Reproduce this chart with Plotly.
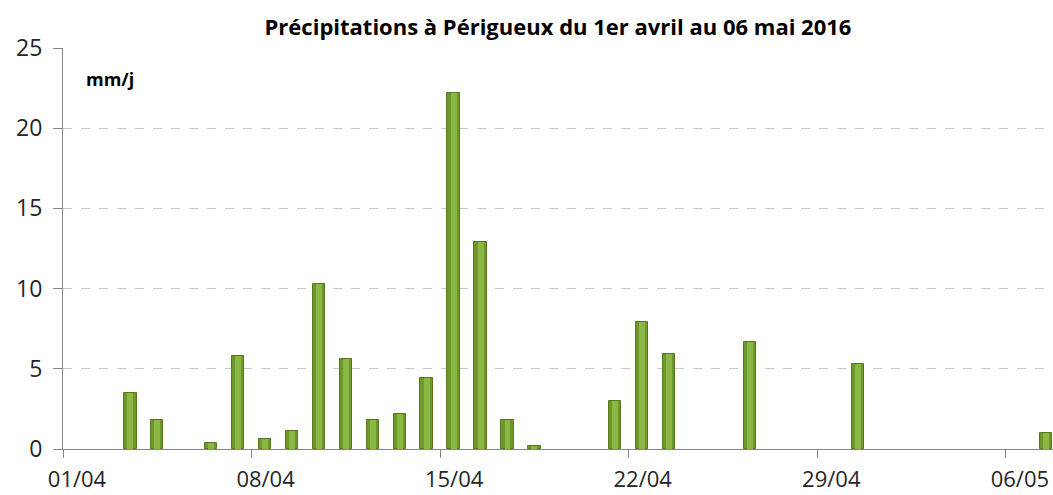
import plotly.graph_objects as go

# Data (mm per day)
dates = ["2016-04-03", "2016-04-04", "2016-04-06", "2016-04-07", "2016-04-08",
         "2016-04-09", "2016-04-10", "2016-04-11", "2016-04-12", "2016-04-13",
         "2016-04-14", "2016-04-15", "2016-04-16", "2016-04-17", "2016-04-18",
         "2016-04-21", "2016-04-22", "2016-04-23", "2016-04-26", "2016-04-30",
         "2016-05-07"]
precip = [3.5, 1.8, 0.4, 5.8, 0.6,
          1.1, 10.3, 5.6, 1.8, 2.2,
          4.4, 22.2, 12.9, 1.8, 0.2,
          3.0, 7.9, 5.9, 6.7, 5.3,
          1.0]
tick_dates = ["2016-04-01", "2016-04-08", "2016-04-15", "2016-04-22", "2016-04-29", "2016-05-06"]
tick_labels = ["01/04", "08/04", "15/04", "22/04", "29/04", "06/05"]
y_ticks = [0, 5, 10, 15, 20, 25]

DAY_MS = 86400000
FONT = "Open Sans"

fig = go.Figure()
# body of the cylinder-like bars
fig.add_trace(go.Bar(
    x=dates, y=precip,
    xperiod=DAY_MS, xperiodalignment="middle",
    width=0.46 * DAY_MS,
    marker=dict(color="#6E982A", line=dict(color="#56771D", width=1)),
    showlegend=False,
))
# lighter highlight stripe, same data
fig.add_trace(go.Bar(
    x=dates, y=precip,
    xperiod=DAY_MS, xperiodalignment="middle",
    width=0.22 * DAY_MS,
    marker=dict(color="#8BB744", line=dict(width=0)),
    showlegend=False, hoverinfo="skip",
))

fig.update_layout(
    width=1053, height=495,
    margin=dict(l=63, r=0, t=48, b=46),
    paper_bgcolor="white", plot_bgcolor="white",
    barmode="overlay",
    title=dict(text="<b>Précipitations à Périgueux du 1er avril au 06 mai 2016</b>",
               x=0.5, xref="paper", xanchor="center",
               y=1 - 27 / 495, yref="container", yanchor="middle",
               font=dict(family=FONT, size=22, color="#000000")),
    annotations=[dict(text="<b>mm/j</b>", xref="paper", yref="paper",
                      x=0.021, y=0.923, xanchor="left", yanchor="middle",
                      showarrow=False, font=dict(family=FONT, size=18, color="#000000"))],
    bargap=0,
)

fig.update_xaxes(
    type="date", automargin=False,
    range=["2016-04-01", "2016-05-07 18:00"],
    tickvals=tick_dates, ticktext=tick_labels,
    ticks="outside", ticklen=8, tickcolor="#868686", tickwidth=1,
    ticklabelshift=14, ticklabelstandoff=3,
    showline=True, linecolor="#868686", linewidth=1,
    showgrid=False, zeroline=False,
    tickfont=dict(family=FONT, size=22, color="#262626"),
)
fig.update_yaxes(
    automargin=False,
    range=[0, 25], tickvals=y_ticks,
    ticks="outside", ticklen=9, tickcolor="#868686", tickwidth=1,
    ticklabelstandoff=6,
    showline=True, linecolor="#868686", linewidth=1,
    showgrid=True, gridcolor="#C8C8C8", griddash="dash", gridwidth=1,
    zeroline=False,
    tickfont=dict(family=FONT, size=23, color="#262626"),
)

fig.write_html("out.html", config={"displayModeBar": False},
               post_script="document.body.style.margin='0';")
